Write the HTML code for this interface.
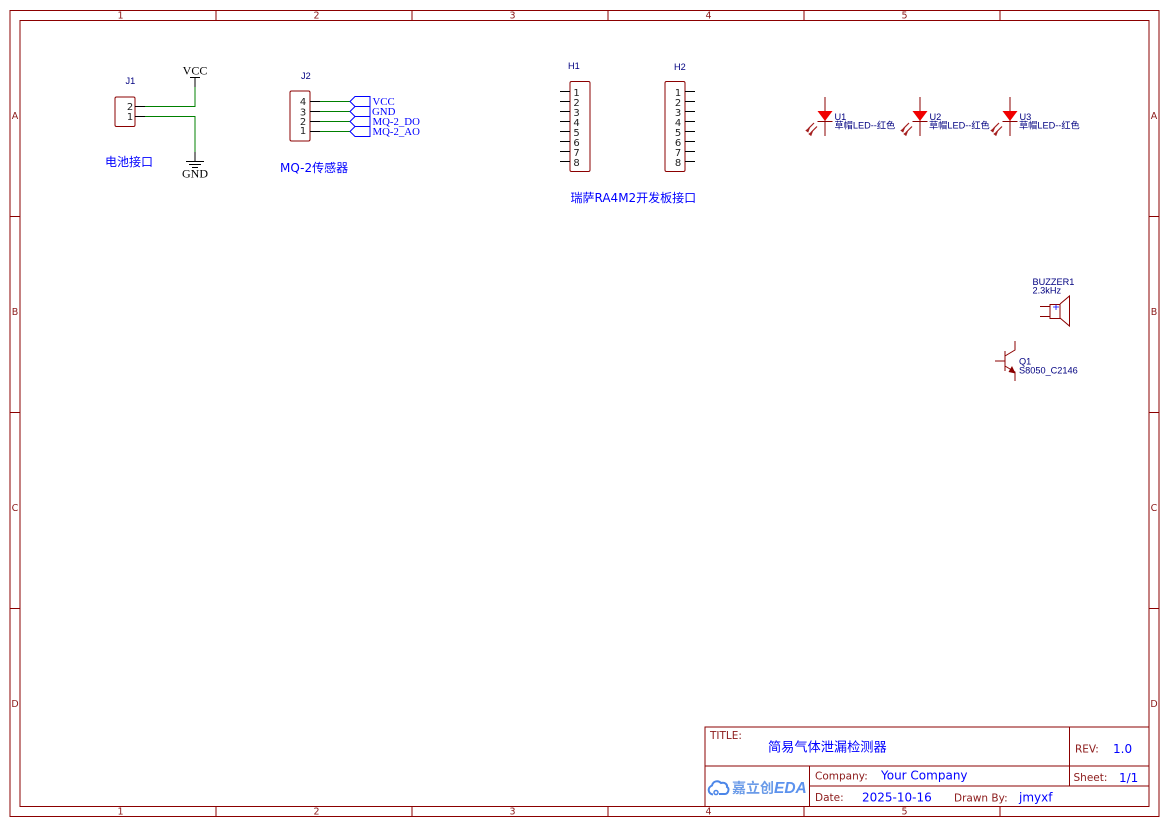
<!DOCTYPE html>
<html><head><meta charset="utf-8"><style>
html,body{margin:0;padding:0;background:#fff}
svg{display:block}
text{font-family:"DejaVu Sans","Noto Sans CJK SC",sans-serif}
.m{fill:#8b1a1a;font-size:9.5px;text-anchor:middle}
.pn{fill:#222;font-size:10px;text-anchor:middle}
.ref{fill:#000080;font-size:9.2px;font-family:"Liberation Sans","Noto Sans CJK SC",sans-serif}
.ann{fill:#0000ff;font-size:12px}
.net{fill:#0000ff;font-size:10.8px;font-family:"Liberation Serif",serif}
.pw{fill:#000;font-size:12px;font-family:"Liberation Serif",serif;text-anchor:middle}
.lab{fill:#8b1a1a;font-size:10.5px}
.val{fill:#0000ff;font-size:12px}
</style></head><body>
<svg width="1169" height="827" viewBox="0 0 1169 827" xmlns="http://www.w3.org/2000/svg">
<rect width="1169" height="827" fill="#fff"/>
<g fill="none" stroke="#8b0000" stroke-width="1">
<rect x="10" y="10.5" width="1149" height="806"/>
<rect x="20" y="20.5" width="1129" height="786"/>
<path d="M216 10.5V20.5M412 10.5V20.5M608 10.5V20.5M804 10.5V20.5M1000 10.5V20.5M216 806.5V816.5M412 806.5V816.5M608 806.5V816.5M804 806.5V816.5M1000 806.5V816.5M10 216.5H20M10 412.5H20M10 608.5H20M1149 216.5H1159M1149 412.5H1159M1149 608.5H1159"/>
</g>
<g class="m">
<text class="m" x="120.500" y="18.500">1</text><text class="m" x="316.500" y="18.500">2</text><text class="m" x="512.500" y="18.500">3</text><text class="m" x="708.500" y="18.500">4</text><text class="m" x="904.500" y="18.500">5</text>
<text class="m" x="120.500" y="814.500">1</text><text class="m" x="316.500" y="814.500">2</text><text class="m" x="512.500" y="814.500">3</text><text class="m" x="708.500" y="814.500">4</text><text class="m" x="904.500" y="814.500">5</text>
<text class="m" x="15" y="119">A</text><text class="m" x="15" y="315">B</text><text class="m" x="15" y="511">C</text><text class="m" x="15" y="707">D</text>
<text class="m" x="1154" y="119">A</text><text class="m" x="1154" y="315">B</text><text class="m" x="1154" y="511">C</text><text class="m" x="1154" y="707">D</text>
</g>

<!-- J1 -->
<rect x="115" y="97" width="20" height="29.500" rx="1.500" fill="none" stroke="#8b0000"/>
<path d="M135 106.500H145M135 116.500H145M195 77V87M195 152V161M190 77.500H200M186 161.500H204M189 164.500H201M192 167.500H198" stroke="#000" stroke-width="1" fill="none"/>
<path d="M145 106.500H195V87M145 116.500H195V152" stroke="#008000" stroke-width="1" fill="none"/>
<text class="pn" x="130" y="110">2</text><text class="pn" x="130" y="120">1</text>
<text class="ref" x="125.500" y="84">J1</text>
<text class="pw" x="195" y="74.500">VCC</text><text class="pw" x="195" y="177.500">GND</text>
<text class="ann" x="105" y="166">电池接口</text>

<!-- J2 -->
<rect x="290" y="91" width="20" height="50" rx="1.500" fill="none" stroke="#8b0000"/>
<path d="M310 101.500H320M310 111.500H320M310 121.500H320M310 131.500H320" stroke="#000" fill="none"/>
<path d="M320 101.500H350M320 111.500H350M320 121.500H350M320 131.500H350" stroke="#008000" fill="none"/>
<path d="M350 101.500L355 96.500H370V106.500H355ZM350 111.500L355 106.500H370V116.500H355ZM350 121.500L355 116.500H370V126.500H355ZM350 131.500L355 126.500H370V136.500H355Z" stroke="#0000ff" fill="none"/>
<text class="pn" x="303" y="105">4</text><text class="pn" x="303" y="115.500">3</text><text class="pn" x="303" y="125">2</text><text class="pn" x="303" y="134">1</text>
<text class="ref" x="301" y="79">J2</text>
<text class="net" x="372.500" y="105">VCC</text><text class="net" x="372" y="115">GND</text><text class="net" x="372.500" y="125">MQ-2_DO</text><text class="net" x="372.500" y="135">MQ-2_AO</text>
<text class="ann" x="280" y="172">MQ-2传感器</text>

<!-- H1 H2 -->
<rect x="570" y="81.500" width="20" height="90" rx="1.500" fill="none" stroke="#8b0000"/>
<rect x="665" y="81.500" width="20" height="90" rx="1.500" fill="none" stroke="#8b0000"/>
<path d="M560 91.500H570M560 101.500H570M560 111.500H570M560 121.500H570M560 131.500H570M560 141.500H570M560 151.500H570M560 161.500H570M685 91.500H695M685 101.500H695M685 111.500H695M685 121.500H695M685 131.500H695M685 141.500H695M685 151.500H695M685 161.500H695" stroke="#000" fill="none"/>
<g class="pn">
<text class="pn" x="576.500" y="96">1</text><text class="pn" x="576.500" y="106">2</text><text class="pn" x="576.500" y="116">3</text><text class="pn" x="576.500" y="126">4</text><text class="pn" x="576.500" y="136">5</text><text class="pn" x="576.500" y="146">6</text><text class="pn" x="576.500" y="156">7</text><text class="pn" x="576.500" y="166">8</text>
<text class="pn" x="678" y="96">1</text><text class="pn" x="678" y="106">2</text><text class="pn" x="678" y="116">3</text><text class="pn" x="678" y="126">4</text><text class="pn" x="678" y="136">5</text><text class="pn" x="678" y="146">6</text><text class="pn" x="678" y="156">7</text><text class="pn" x="678" y="166">8</text>
</g>
<text class="ref" x="568" y="69">H1</text><text class="ref" x="674" y="70">H2</text>
<text class="ann" x="570.500" y="202">瑞萨RA4M2开发板接口</text>

<!-- LEDs -->
<defs><g id="led">
<path d="M0 -24V15" stroke="#8b0000" fill="none"/>
<path d="M-7.500 -10H7.500L0 0Z" fill="#f00000"/>
<path d="M-7.500 0.500H7.500" stroke="#8b0000" fill="none"/>
<path d="M-11 2L-17 8M-8 5.500L-14 11.500" stroke="#a52020" stroke-width="1.200" fill="none"/>
<path d="M-19 9.500L-15.500 7L-17 11ZM-16 13L-12.500 10.500L-14 14.500Z" fill="#a52020" stroke="#a52020" stroke-width=".8"/>
</g></defs>
<use href="#led" x="825" y="121"/>
<use href="#led" x="920" y="121"/>
<use href="#led" x="1010" y="121"/>
<g class="ref">
<text class="ref" x="834.500" y="120">U1</text><text class="ref" x="929.500" y="120">U2</text><text class="ref" x="1019.500" y="120">U3</text>
<text class="ref" x="834.500" y="128.500">草帽LED--红色</text><text class="ref" x="929" y="128.500">草帽LED--红色</text><text class="ref" x="1019" y="128.500">草帽LED--红色</text>
</g>

<!-- Buzzer -->
<text class="ref" x="1032.500" y="285">BUZZER1</text><text class="ref" x="1032.500" y="293.500">2.3kHz</text>
<path d="M1040 306.500H1050M1040 316.500H1050M1050 304.500H1060V318.500H1050Z" stroke="#8b0000" fill="none"/>
<path d="M1060 304L1069.500 296V326L1060 318" stroke="#8b0000" fill="none"/>
<path d="M1053 307H1059M1056 304.500V310" stroke="#0000ff" stroke-width=".8" fill="none"/>

<!-- Q1 -->
<path d="M995 361H1005M1005 351V371M1005 356L1015 350V341M1005 366L1015 372V381" stroke="#8b0000" fill="none"/>
<path d="M1015.500 373.500L1008.500 372L1012 366Z" fill="#8b0000"/>
<text class="ref" x="1019" y="364.500">Q1</text><text class="ref" x="1019" y="373.500">S8050_C2146</text>

<!-- Title block -->
<g fill="none" stroke="#8b0000">
<rect x="705" y="727" width="444" height="79.500"/>
<path d="M705 766H1149M810 786H1149M1069.500 727V786M809.500 766V806"/>
</g>
<text class="lab" x="710" y="739">TITLE:</text>
<text class="val" x="768" y="751.500" style="font-size:13.200px">简易气体泄漏检测器</text>
<text class="lab" x="1075" y="752.500">REV:</text><text class="val" x="1113" y="753">1.0</text>
<text class="lab" x="1073.500" y="781">Sheet:</text><text class="val" x="1119" y="782">1/1</text>
<text class="lab" x="815" y="779.500">Company:</text><text class="val" x="881" y="779.500">Your Company</text>
<text class="lab" x="815" y="801">Date:</text><text class="val" x="862" y="801.500">2025-10-16</text>
<text class="lab" x="954" y="801.500">Drawn By:</text><text class="val" x="1019" y="801.500">jmyxf</text>

<!-- logo -->
<path d="M713 794.500C708 794 707 787.500 712 785.500C713 781 718 780 721 783C725 782 727.500 784.500 727 787C730 788.500 728 794 725 794H719" fill="none" stroke="#4c86e8" stroke-width="2"/>
<circle cx="716" cy="792.500" r="2" fill="none" stroke="#4c86e8" stroke-width="1.500"/>
<text x="732" y="793" style="font-size:14px;font-weight:bold;fill:#6b9be8;font-family:'Noto Sans CJK SC',sans-serif">嘉立创</text>
<text x="774" y="793" style="font-size:15.500px;font-weight:bold;font-style:italic;fill:#5c92ee;font-family:'Liberation Sans',sans-serif">EDA</text>
</svg>
</body></html>
